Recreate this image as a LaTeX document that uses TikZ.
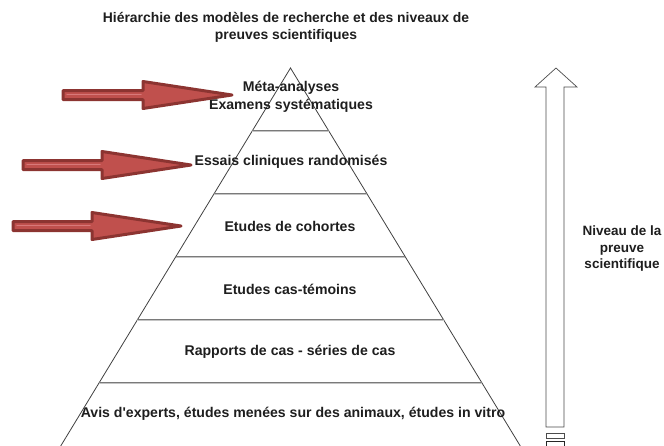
\documentclass[tikz,border=0pt]{standalone}
\usepackage{fontspec}
\setmainfont{Liberation Sans}[Ligatures=TeXOff]
\definecolor{txt}{HTML}{1E1E1E}
\definecolor{redfill}{HTML}{C0504D}
\definecolor{redline}{HTML}{8C3431}
\definecolor{redlight}{HTML}{D8797A}
\definecolor{lvl}{HTML}{7A7A7A}
\definecolor{lvlin}{HTML}{C4C4C4}
\begin{document}
\begin{tikzpicture}[x=1pt,y=-1pt,
  side/.style={draw=black!75, line width=0.8pt},
  level/.style={draw=lvl, line width=0.8pt, double=lvlin, double distance=1pt},
  lab/.style={text=txt, font=\fontsize{14.1}{18}\selectfont\bfseries, align=center, inner sep=0pt},
  ttl/.style={text=txt, font=\fontsize{13.9}{17}\selectfont\bfseries, align=center, inner sep=0pt},
  side lab/.style={text=txt, font=\fontsize{13.5}{16.5}\selectfont\bfseries, align=center, inner sep=0pt},
  redarrow/.style={fill=redfill, draw=redline, line width=3pt, line join=round, line cap=round},
  hollow/.style={draw=black!70, line width=0.7pt, fill=white}
]
\useasboundingbox (0,0) rectangle (664,445);

% pyramid
\coordinate (apex) at (290.5,68);
\coordinate (bl) at (60.7,446);
\coordinate (br) at (520.3,446);
\draw[side] (bl) -- (apex) -- (br);
\foreach \k in {1,...,5}{
  \coordinate (l\k) at ({290.5-38.3*\k},{68+63*\k});
  \coordinate (r\k) at ({290.5+38.3*\k},{68+63*\k});
  \draw[level] (l\k) -- (r\k);
}

% labels
\node[ttl] (title) at (286,27) {Hiérarchie des modèles de recherche et des niveaux de\\preuves scientifiques};
\node[lab] (meta) at (291,97) {Méta-analyses\\Examens systématiques};
\node[lab] (essais) at (291,162) {Essais cliniques randomisés};
\node[lab] (cohort) at (290,226) {Etudes de cohortes};
\node[lab] (castem) at (290,289) {Etudes cas-témoins};
\node[lab] (rapports) at (290,352) {Rapports de cas - séries de cas};
\node[lab] (avis) at (293,414) {Avis d'experts, études menées sur des animaux, études in vitro};
\node[side lab] (niveau) at (622,249) {Niveau de la\\preuve\\scientifique};

% red arrows
\newcommand\redarr[4]{%
  \path[redarrow] (#1,#4-4.5) -- (#3,#4-4.5) -- (#3,#4-13.5) -- (#2,#4) -- (#3,#4+13.5) -- (#3,#4+4.5) -- (#1,#4+4.5) -- cycle;
  \draw[redlight, line width=1.5pt, line cap=round] (#1+4,#4-0.5) -- (#3-2,#4-0.5);
}
\redarr{63}{232}{143}{95}
\redarr{23}{191}{102}{165}
\redarr{13}{181}{92}{226}

% hollow vertical arrow
\path[hollow] (546,427) -- (546,87) -- (535,87) -- (556,68) -- (577,87) -- (564,87) -- (564,427) -- cycle;
\draw[hollow] (546,433) rectangle (564,438);
\draw[hollow, draw=black!85, line width=1pt] (546,441.5) rectangle (564,447);
\end{tikzpicture}
\end{document}
